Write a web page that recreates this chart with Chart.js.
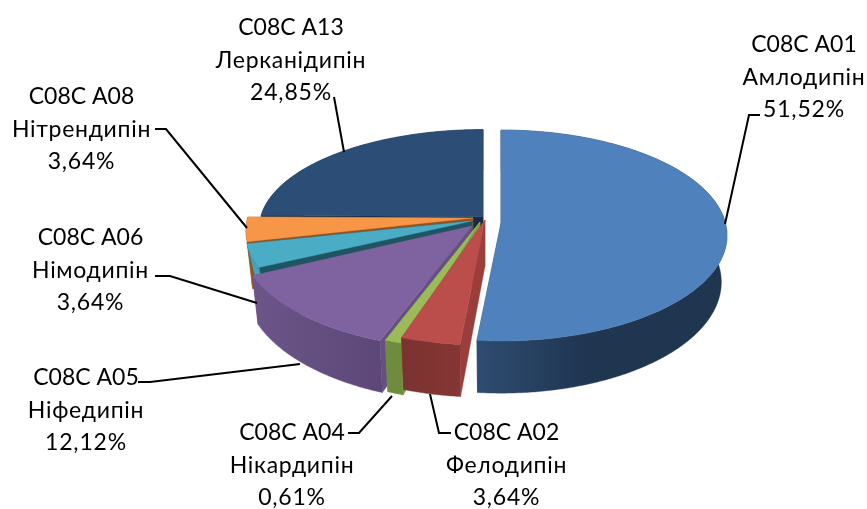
<!DOCTYPE html>
<html>
<head>
<meta charset="utf-8">
<style>html,body{margin:0;padding:0;background:#fff}#wrap{width:867px;height:509px;position:relative}</style>
<script src="https://cdn.jsdelivr.net/npm/chart.js@4"></script>
</head>
<body>
<div id="wrap"><canvas id="c" width="867" height="509"></canvas></div>
<script>
const codes = ['C08C A01','C08C A02','C08C A04','C08C A05','C08C A06','C08C A08','C08C A13'];
const names = ['Амлодипін','Фелодипін','Нікардипін','Ніфедипін','Німодипін','Нітрендипін','Лерканідипін'];
const shares = [51.52,3.64,0.61,12.12,3.64,3.64,24.85];

// styling
const topColors  = ['#4f81bd','#bb4e4b','#9bbb59','#7f62a0','#4bacc6','#f79646','#2c4d75'];
const cutColors  = ['#2c4a6e','#9a3e3c','#7f9a48','#66507f','#1f5563','#8a5528','#172b44'];
const wallLeft   = ['#2e4c71','#7a3230','#6f8c3e','#6c5689','#45a0b8','#8a5a2a','#1f3550'];
const wallRight  = ['#1f3550','#853634','#6f8c3e','#5c4778','#45a0b8','#8a5a2a','#1f3550'];
const drawOrder  = [6,5,4,3,2,1,0];
const sliceShift = [[18,6],[2,3],[-3,5],[-11,9],[-11,4],[-10,1],[0,-0.5]];
const sliceScale = [[1.02,1],[1.06,1.06],[1.08,1.08],[1.05,1.05],[1.02,0.98],[1.025,1.02],[1.01,0.935]];
const sliceGrow  = [0,0,0.025,0,0,0,0];
const sliceDepth = [1,1,1,1,0.5,1,1];
const labelBlocks = [[804,44.5],[506.5,432.5],[292,432.5],[86,377.5],[90.5,237.5],[81.5,96.5],[291,27.5]];
const lineHeight = 32.7;
const leaders = [
  [[725,224],[749,115],[760,115]],
  [[430,394],[439,433],[451,433]],
  [[392,396],[359,433],[348,433]],
  [[300,364],[150,382],[138,382]],
  [[257,303],[170,276],[155,276]],
  [[247,228],[166,129],[155,129]],
  [[344,152],[334,97]]
];
const SX = 220, SY = 104, K = 0.1185, DEPTH = 46, TAPER = 0.025;

const pie3d = {
  id:'pie3d',
  beforeDatasetDraw(chart){
    const ctx = chart.ctx;
    const arcs = chart.getDatasetMeta(0).data;
    drawOrder.forEach(i=>{
      const a = arcs[i];
      const [dx,dy] = sliceShift[i], [kx,ky] = sliceScale[i];
      const P = (ang,r,z)=>{
        const u=r*Math.cos(ang), v=r*Math.sin(ang), w=1-K*v;
        return [a.x+dx+SX*kx*u*(1-TAPER*z)/w, a.y+dy+(SY*ky*v+DEPTH*sliceDepth[i]*z)/w];
      };
      const s=a.startAngle-sliceGrow[i], e=a.endAngle;
      const n=Math.max(4,Math.ceil((e-s)/0.01));
      const arcPts=z=>{const p=[];for(let j=0;j<=n;j++)p.push(P(s+(e-s)*j/n,1,z));return p;};
      const poly=(pts,fill)=>{
        ctx.beginPath();pts.forEach((p,j)=>j?ctx.lineTo(p[0],p[1]):ctx.moveTo(p[0],p[1]));ctx.closePath();
        ctx.fillStyle=fill;ctx.fill();ctx.strokeStyle=fill;ctx.lineWidth=0.4;ctx.stroke();
      };
      const top=arcPts(0), bot=arcPts(1), c0=P(0,0,0), c1=P(0,0,1);
      // cut faces
      poly([c0,top[0],bot[0],c1],cutColors[i]);
      poly([c0,top[n],bot[n],c1],cutColors[i]);
      // outer wall
      const xs=top.map(p=>p[0]);
      const minX=Math.min(...xs),maxX=Math.max(...xs);
      const g=ctx.createLinearGradient(minX,0,maxX,0);
      g.addColorStop(0,wallLeft[i]);g.addColorStop(i===0?0.45:1,wallRight[i]);g.addColorStop(1,wallRight[i]);
      poly(top.concat(bot.slice().reverse()),g);
      // top face
      poly([c0].concat(top),topColors[i]);
    });
    return false;
  },
  afterDatasetsDraw(chart){
    const ctx=chart.ctx;
    ctx.save();
    ctx.strokeStyle='#000';ctx.lineWidth=2;ctx.lineJoin='miter';
    leaders.forEach(l=>{ctx.beginPath();l.forEach((p,j)=>j?ctx.lineTo(p[0],p[1]):ctx.moveTo(p[0],p[1]));ctx.stroke();});
    ctx.fillStyle='#000';ctx.font='23px Lato, "Open Sans", sans-serif';ctx.textAlign='center';ctx.textBaseline='middle';
    labelBlocks.forEach((b,i)=>{
      ctx.letterSpacing='0px';
      ctx.fillText(codes[i],b[0],b[1]);
      ctx.letterSpacing='0.7px';
      ctx.fillText(names[i],b[0],b[1]+lineHeight);
      ctx.letterSpacing='0.8px';
      ctx.fillText(shares[i].toFixed(2).replace('.',',')+'%',b[0],b[1]+2*lineHeight);
    });
    ctx.restore();
  }
};

new Chart(document.getElementById('c'),{
  type:'pie',
  data:{labels:names,datasets:[{data:shares,backgroundColor:topColors,borderWidth:0}]},
  options:{
    responsive:false,animation:false,
    layout:{padding:{left:99,bottom:75}},
    plugins:{legend:{display:false},tooltip:{enabled:false},title:{display:false}}
  },
  plugins:[pie3d]
});
</script>
</body>
</html>
